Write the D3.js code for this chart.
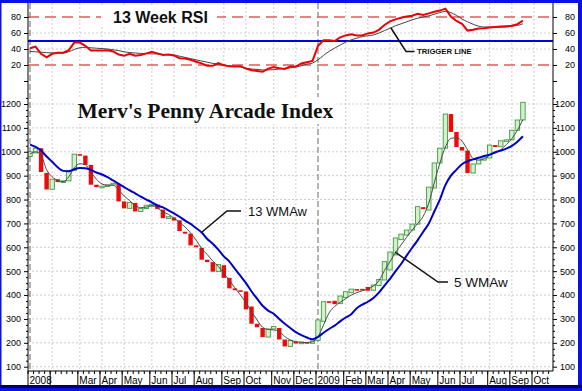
<!DOCTYPE html>
<html><head><meta charset="utf-8">
<script src="https://cdn.jsdelivr.net/npm/d3@7"></script>
<style>body{margin:0;background:#fff}svg{display:block}</style>
</head><body><svg id="c" width="582" height="391"></svg>
<script>
// ---------- DATA ----------
const firstWeek = "2008-01-04";
const barOpen = [980,995,1015,912,843,885,872,878,922,990,
 984,945,862,852,856,861,866,792,763,786,
 750,762,772,779,758,720,725,713,665,657,
 608,598,548,538,498,525,472,428,420,415,
 352,280,262,224,258,262,214,185,205,197,
 203,198,210,290,374,376,364,390,410,425,
 426,434,420,440,463,505,568,632,651,672,
 697,768,756,848,953,1015,1158,1083,1020,1005,
 911,949,965,974,1028,1021,1046,1050,1090,1133];
const barClose = [1000,1015,915,842,885,873,878,922,990,984,
 945,862,852,856,861,868,792,763,788,750,
 762,776,780,760,722,728,712,668,657,608,
 600,548,538,498,528,472,428,420,415,340,
 280,265,224,258,268,214,185,210,197,203,
 198,208,296,372,370,362,396,414,425,422,
 423,418,442,465,540,580,639,655,672,697,
 770,760,852,953,1015,1158,1083,1020,1005,911,
 949,974,978,1028,1020,1046,1050,1090,1133,1207];
const wma5 = [990,1000,985,925,895,880,875,895,933,950,
 945,915,885,865,860,860,840,815,795,775,
 766,768,775,765,748,738,722,705,685,660,
 630,595,570,542,520,490,462,430,400,368,
 330,296,265,256,254,248,226,212,205,202,
 201,205,225,275,325,352,370,385,400,410,
 418,425,438,460,503,540,578,610,642,672,
 700,730,785,870,952,1020,1056,1058,1045,1008,
 972,965,970,986,995,1008,1030,1055,1090,1135];
const wma13 = [1030,1020,1005,980,958,935,920,918,927,932,
 931,924,913,905,894,880,866,852,838,826,
 812,800,788,775,767,755,742,728,712,698,
 680,662,635,615,590,562,540,510,480,450,
 415,385,355,335,322,300,280,262,245,232,
 222,215,225,242,258,272,290,306,320,345,
 360,372,388,410,440,468,500,530,565,598,
 630,665,700,750,800,860,900,925,948,960,
 968,975,982,988,998,1005,1013,1025,1042,1065];
const rsi = [41,43,34,29.5,34,35.4,35.4,38.5,48,48,
 44,38,38,38,38.5,37,33,31.5,34,31.5,
 32.5,34.5,36.5,34.5,32.5,33,32,28.5,28,26.5,
 24,22,19,19,22.5,19.5,18.5,18,18.5,15.5,
 13.5,12.5,11.5,15.5,17.5,16,15,18,18,22,
 23.5,25,44,51,51,50,54.5,57,58.5,57,
 57,59.5,60.5,64,70,74.5,77,79,80.5,81.5,
 84,82.5,84.5,86.5,88,90.5,80.5,75,71.5,63,
 64,65.5,66,67,67.5,68,68.5,69,71,75.5];
const trigger = [37,36.5,36,35.5,35,34.8,35,36.5,39.5,41.5,
 42,41.5,41,40.5,40,39,38,36.5,35.5,35,
 34.5,34,34,33.7,33.3,32.8,32.5,31,29.5,28,
 26.5,25,23.5,22,21,20,19,18.5,17.5,16,
 15,14.5,13.8,13.8,14.2,15,15.8,16.5,17.5,19,
 21,22.5,26.5,32,37,41,45,48.5,51.5,53.5,
 55.5,56.5,57.5,60,63,66,69,71.5,74,76.5,
 78.5,80,81.5,83.5,85.5,87,85.5,82,77.5,74,
 71,68.5,67.5,67.5,67.3,67.3,67.5,68.5,69.5,71.5];
const priceTicks = [100,200,300,400,500,600,700,800,900,1000,1100,1200];
const rsiTicks = [0,20,40,60,80];
const rsiTickLabels = ["","20","40","60","80"];
const monthTickLabels = ["2008","","Mar","Apr","May","Jun","Jul","Aug","Sep","Oct","Nov","Dec",
 "2009","Feb","Mar","Apr","May","Jun","Jul","Aug","Sep","Oct"];
const rsiTitle = "13 Week RSI";
const mainTitle = "Merv's Penny Arcade Index";

// ---------- LAYOUT ----------
const W = 582, H = 391;
const L = 28, R = 553, T = 3, B = 371;
const svg = d3.select("#c");
const sans = "'Liberation Sans', Arial, sans-serif";
const parse = d3.utcParse("%Y-%m-%d");
const start = parse(firstWeek);
const dates = barClose.map((_, i) => d3.utcDay.offset(start, 7 * i));

const x = d3.scaleUtc().domain([start, parse("2009-10-02")]).range([30, 534]);
const yP = d3.scaleLinear().domain([100, 1200]).range([366.7, 104]);
const yR = d3.scaleLinear().domain([0, 80]).range([81, 17]);
const fmt = d3.format("d");

// frame
svg.append("rect").attr("width", W).attr("height", H).attr("fill", "#0a10e8");
svg.append("rect").attr("x", 1.5).attr("y", 3).attr("width", 576.5).attr("height", 382).attr("fill", "#fff");
svg.append("rect").attr("x", 0).attr("y", 385).attr("width", W).attr("height", 3).attr("fill", "#000058");

const fridays = d3.utcFriday.range(parse("2008-01-01"), parse("2009-10-31"));
const monthStarts = fridays.filter(d => d.getUTCDate() <= 7);
const weekTicks = fridays.filter(d => x(d) >= L && x(d) <= R);

const grid = svg.append("g");
grid.selectAll(".hp").data(priceTicks).join("line")
  .attr("x1", L).attr("x2", R).attr("y1", d => yP(d)).attr("y2", d => yP(d))
  .attr("stroke", "#cdcdcd").attr("stroke-dasharray", "2,2");
grid.selectAll(".hr").data([40, 60]).join("line")
  .attr("x1", L).attr("x2", R).attr("y1", d => yR(d)).attr("y2", d => yR(d))
  .attr("stroke", "#cdcdcd").attr("stroke-dasharray", "2,2");
grid.selectAll(".vm").data(monthStarts.filter(d => d.getUTCMonth() !== 0)).join("line")
  .attr("x1", d => x(d)).attr("x2", d => x(d)).attr("y1", T).attr("y2", B)
  .attr("stroke", "#cdcdcd").attr("stroke-dasharray", "2,2");
grid.selectAll(".vy").data(monthStarts.filter(d => d.getUTCMonth() === 0)).join("line")
  .attr("x1", d => x(d)).attr("x2", d => x(d)).attr("y1", T).attr("y2", B)
  .attr("stroke", "#9a9a9a").attr("stroke-width", 1.5).attr("stroke-dasharray", "6,3");
grid.selectAll(".rr").data([20, 80]).join("line")
  .attr("x1", L).attr("x2", R).attr("y1", d => yR(d)).attr("y2", d => yR(d))
  .attr("stroke", "#e25a5a").attr("stroke-width", 1.3).attr("stroke-dasharray", "11,6");
grid.append("line").attr("x1", L).attr("x2", R).attr("y1", yR(50)).attr("y2", yR(50))
  .attr("stroke", "#0000dd").attr("stroke-width", 2);

svg.append("clipPath").attr("id", "clip").append("rect")
  .attr("x", L).attr("y", T).attr("width", R - L).attr("height", B - T);
const plot = svg.append("g").attr("clip-path", "url(#clip)");

const bw = 4.4;
plot.selectAll(".bar").data(barClose).join("rect")
  .attr("x", (d, i) => x(dates[i]) - bw / 2)
  .attr("y", (d, i) => Math.min(yP(d), yP(barOpen[i])))
  .attr("width", bw)
  .attr("height", (d, i) => Math.max(1.6, Math.abs(yP(d) - yP(barOpen[i]))))
  .attr("fill", (d, i) => d >= barOpen[i] ? "#d3f0cb" : "#ee0a0a")
  .attr("stroke", (d, i) => d >= barOpen[i] ? "#3f9a3f" : "none")
  .attr("stroke-width", 0.9);

const lineP = d3.line().x((d, i) => x(dates[i])).y(d => yP(d)).curve(d3.curveMonotoneX);
plot.append("path").attr("d", lineP(wma5)).attr("fill", "none").attr("stroke", "#4a4a4a").attr("stroke-width", 1);
plot.append("path").attr("d", lineP(wma13)).attr("fill", "none").attr("stroke", "#0000cc").attr("stroke-width", 2);

plot.append("path").attr("d", d3.line().x((d, i) => x(dates[i])).y(d => yR(d)).curve(d3.curveMonotoneX)(trigger))
  .attr("fill", "none").attr("stroke", "#444").attr("stroke-width", 1);
plot.append("path").attr("d", d3.line().x((d, i) => x(dates[i])).y(d => yR(d))(rsi))
  .attr("fill", "none").attr("stroke", "#ee0000").attr("stroke-width", 2);

svg.append("line").attr("x1", L).attr("x2", L).attr("y1", T).attr("y2", B).attr("stroke", "#000");
svg.append("line").attr("x1", R).attr("x2", R).attr("y1", T).attr("y2", B).attr("stroke", "#000");
svg.append("line").attr("x1", L).attr("x2", R).attr("y1", B).attr("y2", B).attr("stroke", "#000");

function styleAxis(g) {
  g.select(".domain").remove();
  g.selectAll("text").attr("font-family", sans).attr("font-size", 9).attr("fill", "#000");
  g.selectAll("line").attr("stroke", "#000");
}
const minor = d3.range(100, 1226, 25).filter(v => v % 100 !== 0);
svg.append("g").attr("transform", `translate(${L},0)`)
  .call(d3.axisLeft(yP).tickValues(priceTicks).tickSize(4).tickPadding(3).tickFormat(fmt)).call(styleAxis);
svg.append("g").attr("transform", `translate(${L},0)`)
  .call(d3.axisLeft(yP).tickValues(minor).tickSize(2).tickFormat("")).call(styleAxis);
svg.append("g").attr("transform", `translate(${R},0)`)
  .call(d3.axisRight(yP).tickValues(priceTicks).tickSize(4).tickFormat(fmt)).call(styleAxis)
  .selectAll("text").attr("text-anchor", "end").attr("x", 22);
svg.append("g").attr("transform", `translate(${R},0)`)
  .call(d3.axisRight(yP).tickValues(minor).tickSize(2).tickFormat("")).call(styleAxis);
svg.append("g").attr("transform", `translate(${L},0)`)
  .call(d3.axisLeft(yR).tickValues(rsiTicks).tickSize(4).tickPadding(3).tickFormat((d, i) => rsiTickLabels[i])).call(styleAxis);
svg.append("g").attr("transform", `translate(${R},0)`)
  .call(d3.axisRight(yR).tickValues(rsiTicks).tickSize(4).tickFormat((d, i) => rsiTickLabels[i])).call(styleAxis)
  .selectAll("text").attr("text-anchor", "end").attr("x", 22);

const bx = svg.append("g");
bx.selectAll(".wt").data(weekTicks).join("line")
  .attr("x1", d => x(d) - 2).attr("x2", d => x(d) - 2).attr("y1", B).attr("y2", B + 3).attr("stroke", "#000");
bx.selectAll(".ms").data(monthStarts).join("line")
  .attr("x1", d => x(d) - 2).attr("x2", d => x(d) - 2).attr("y1", B).attr("y2", 385).attr("stroke", "#000");
bx.selectAll(".ml").data(monthStarts).join("text")
  .attr("x", d => x(d) - 0.5).attr("y", 383.5)
  .attr("font-family", sans).attr("font-size", 10).attr("fill", "#000")
  .text((d, i) => monthTickLabels[i]);

svg.append("rect").attr("x", 101).attr("y", 7).attr("width", 116).attr("height", 20).attr("fill", "#fff");
svg.append("text").attr("x", 113).attr("y", 23.3).attr("font-family", sans).attr("font-weight", "bold")
  .attr("font-size", 16).attr("fill", "#111").text(rsiTitle);
svg.append("rect").attr("x", 75).attr("y", 97).attr("width", 262).attr("height", 27).attr("fill", "#fff");
svg.append("text").attr("x", 77.5).attr("y", 118.3).attr("font-family", "'Liberation Serif','Times New Roman',serif")
  .attr("font-weight", "bold").attr("font-size", 21.5).attr("fill", "#111").text(mainTitle);

const ann = svg.append("g").attr("fill", "none").attr("stroke", "#111").attr("stroke-width", 1.5);
ann.append("polyline").attr("points", "202,232 227,211 241,211");
ann.append("polyline").attr("points", "395,252 438,282 448,282");
ann.append("polyline").attr("points", "391,28 406,51.5 414.5,51.5");
svg.append("text").attr("x", 248).attr("y", 215.7).attr("font-family", sans).attr("font-size", 13).attr("fill", "#111").text("13 WMAw");
svg.append("text").attr("x", 454).attr("y", 286.7).attr("font-family", sans).attr("font-size", 13.5).attr("fill", "#111").text("5 WMAw");
svg.append("text").attr("x", 417).attr("y", 54.2).attr("font-family", sans).attr("font-weight", "bold").attr("font-size", 7.7).attr("fill", "#111").text("TRIGGER LINE");
</script></body></html>
